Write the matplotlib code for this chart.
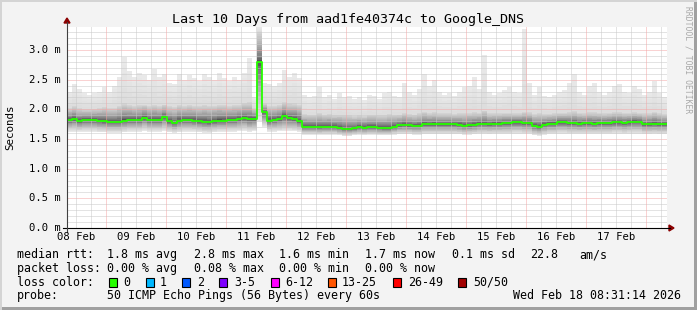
import numpy as np
import matplotlib
matplotlib.use('Agg')
import matplotlib.pyplot as plt
from matplotlib.patches import Rectangle, Polygon
from matplotlib.lines import Line2D


###===== DATA =====####

# 2-hour bins over the 10 days (start Feb 8 08:31:14), values in ms
median_rtt = [
    1.82, 1.84, 1.80, 1.82, 1.82, 1.82, 1.81, 1.80, 1.79, 1.79, 1.79, 1.81,
    1.82, 1.82, 1.82, 1.86, 1.82, 1.82, 1.82, 1.87, 1.80, 1.77, 1.81, 1.82,
    1.82, 1.81, 1.80, 1.79, 1.78, 1.80, 1.81, 1.81, 1.82, 1.82, 1.84, 1.86,
    1.83, 1.84, 2.80, 1.95, 1.81, 1.82, 1.84, 1.88, 1.85, 1.84, 1.80, 1.71,
    1.71, 1.71, 1.70, 1.71, 1.71, 1.71, 1.69, 1.67, 1.67, 1.68, 1.70, 1.69,
    1.70, 1.70, 1.69, 1.68, 1.68, 1.71, 1.73, 1.74, 1.73, 1.72, 1.72, 1.75,
    1.75, 1.75, 1.75, 1.75, 1.75, 1.75, 1.74, 1.72, 1.73, 1.74, 1.76, 1.76,
    1.75, 1.76, 1.76, 1.77, 1.77, 1.78, 1.78, 1.77, 1.77, 1.72, 1.71, 1.74,
    1.76, 1.76, 1.78, 1.78, 1.77, 1.77, 1.76, 1.77, 1.77, 1.76, 1.77, 1.77,
    1.77, 1.78, 1.78, 1.77, 1.78, 1.79, 1.79, 1.75, 1.75, 1.76, 1.75, 1.75,
]

smoke_low = [
    1.62, 1.62, 1.62, 1.62, 1.62, 1.62, 1.61, 1.61, 1.60, 1.60, 1.60, 1.61,
    1.62, 1.62, 1.62, 1.63, 1.62, 1.62, 1.62, 1.63, 1.61, 1.60, 1.61, 1.62,
    1.62, 1.62, 1.61, 1.60, 1.60, 1.61, 1.62, 1.62, 1.62, 1.62, 1.63, 1.63,
    1.62, 1.63, 1.80, 1.70, 1.62, 1.62, 1.63, 1.64, 1.63, 1.63, 1.62, 1.57,
    1.57, 1.57, 1.57, 1.57, 1.57, 1.57, 1.56, 1.55, 1.55, 1.56, 1.57, 1.56,
    1.57, 1.57, 1.56, 1.56, 1.56, 1.57, 1.58, 1.58, 1.58, 1.57, 1.57, 1.58,
    1.58, 1.58, 1.58, 1.58, 1.58, 1.58, 1.58, 1.57, 1.57, 1.58, 1.58, 1.58,
    1.58, 1.58, 1.58, 1.58, 1.58, 1.59, 1.59, 1.58, 1.58, 1.56, 1.55, 1.57,
    1.58, 1.58, 1.59, 1.59, 1.58, 1.58, 1.58, 1.58, 1.58, 1.58, 1.58, 1.58,
    1.58, 1.59, 1.59, 1.58, 1.59, 1.59, 1.59, 1.58, 1.58, 1.58, 1.58, 1.58,
]

smoke_mid = [
    2.02, 2.05, 2.02, 2.00, 2.00, 2.01, 2.02, 2.04, 2.02, 2.03, 2.06, 2.10,
    2.08, 2.06, 2.07, 2.08, 2.06, 2.08, 2.06, 2.08, 2.05, 2.04, 2.07, 2.06,
    2.07, 2.06, 2.05, 2.07, 2.06, 2.06, 2.08, 2.07, 2.06, 2.07, 2.08, 2.10,
    2.12, 2.02, 3.30, 2.10, 2.06, 2.06, 2.08, 2.12, 2.10, 2.10, 2.08, 1.92,
    1.91, 1.91, 1.93, 1.91, 1.92, 1.90, 1.91, 1.90, 1.90, 1.89, 1.90, 1.89,
    1.91, 1.91, 1.90, 1.91, 1.92, 1.91, 1.91, 1.94, 1.92, 1.91, 1.93, 1.96,
    1.94, 1.95, 1.93, 1.93, 1.93, 1.92, 1.93, 1.93, 1.94, 1.95, 1.94, 1.98,
    1.93, 1.93, 1.93, 1.94, 1.94, 1.93, 1.93, 1.96, 1.95, 1.92, 1.93, 1.92,
    1.92, 1.93, 1.94, 1.94, 1.95, 1.97, 1.94, 1.93, 1.95, 1.95, 1.94, 1.93,
    1.94, 1.95, 1.95, 1.94, 1.94, 1.95, 1.94, 1.93, 1.94, 1.96, 1.94, 1.92,
]

smoke_max = [
    2.30, 2.42, 2.35, 2.28, 2.25, 2.27, 2.30, 2.38, 2.30, 2.40, 2.55, 2.88,
    2.65, 2.55, 2.62, 2.58, 2.50, 2.68, 2.55, 2.60, 2.45, 2.42, 2.60, 2.50,
    2.58, 2.52, 2.48, 2.60, 2.55, 2.50, 2.62, 2.52, 2.48, 2.55, 2.50, 2.62,
    2.86, 2.20, 3.38, 2.45, 2.42, 2.40, 2.45, 2.66, 2.55, 2.62, 2.52, 2.25,
    2.20, 2.22, 2.37, 2.20, 2.25, 2.18, 2.28, 2.20, 2.22, 2.18, 2.20, 2.15,
    2.25, 2.22, 2.18, 2.28, 2.30, 2.22, 2.20, 2.45, 2.30, 2.25, 2.35, 2.60,
    2.40, 2.50, 2.30, 2.25, 2.28, 2.22, 2.30, 2.37, 2.40, 2.55, 2.35, 2.92,
    2.30, 2.25, 2.28, 2.32, 2.37, 2.30, 2.28, 3.35, 2.45, 2.25, 2.37, 2.22,
    2.20, 2.25, 2.30, 2.33, 2.45, 2.60, 2.30, 2.25, 2.40, 2.45, 2.30, 2.25,
    2.30, 2.40, 2.43, 2.30, 2.28, 2.40, 2.35, 2.25, 2.30, 2.47, 2.28, 2.20,
]

day_labels = ['08 Feb', '09 Feb', '10 Feb', '11 Feb', '12 Feb',
              '13 Feb', '14 Feb', '15 Feb', '16 Feb', '17 Feb']
y_ticks = [0.0, 0.5, 1.0, 1.5, 2.0, 2.5, 3.0]

title = 'Last 10 Days from aad1fe40374c to Google_DNS'
rtt_stats = ['1.8 ms avg', '2.8 ms max', '1.6 ms min', '1.7 ms now', '0.1 ms sd', '22.8', 'am/s']
loss_stats = ['0.00 % avg', '0.08 % max', '0.00 % min', '0.00 % now']
loss_labels = ['0', '1', '2', '3-5', '6-12', '13-25', '26-49', '50/50']
loss_colors = ['#26ff00', '#00b8ff', '#0059ff', '#7e00ff', '#ff00ff', '#ff5500', '#ff0000', '#a10000']
probe_text = '50 ICMP Echo Pings (56 Bytes) every 60s'
stamp = 'Wed Feb 18 08:31:14 2026'


###===== LAYOUT =====####
W, H = 697, 310
X0, X1 = 67, 667           # plot area in pixels
Y0, Y1 = 228, 27
MS_PER_PX = 1 / 59.33
HOURS = 240
MIDNIGHT = 15.479          # hours from start to Feb 9 00:00
MONO = 'DejaVu Sans Mono'

def fx(x):
    return x / W

def fy(y):
    return 1 - y / H


fig = plt.figure(figsize=(W / 100, H / 100), dpi=100, facecolor='#f3f3f3')
ax = fig.add_axes([fx(X0), fy(Y0), (X1 - X0) / W, (Y0 - Y1) / H])
ax.set_facecolor('white')
ax.set_xlim(0, HOURS)
ax.set_ylim(0, (Y0 - Y1) * MS_PER_PX)
for s in ax.spines.values():
    s.set_visible(False)
ax.set_xticks([])
ax.set_yticks([])

#=== Smoke ===#
med = np.array(median_rtt)
low = np.array(smoke_low)
mid = np.array(smoke_mid)
top = np.array(smoke_max)
edges = np.arange(len(med) + 1) * 2.0

def ext(a):
    return np.append(a, a[-1])

def shade(a, b, g0, g1, n=14, gamma=1.0):
    # gray ramp from curve a (level g0) to curve b (level g1)
    for k in range(n):
        lo = a + (b - a) * k / n
        hi = a + (b - a) * (k + 1) / n
        t = ((k + 0.5) / n) ** gamma
        g = g0 + (g1 - g0) * t
        ax.fill_between(edges, ext(lo), ext(hi), step='post', color=str(round(g, 3)),
                        lw=0, antialiased=False, zorder=1)

shade(med, low, 0.25, 0.92, gamma=0.55)
shade(med, mid, 0.20, 0.84, gamma=0.5)
shade(mid, top, 0.86, 0.92, n=6)

#=== Grid ===#
dot = (0, (1, 1))
for v in np.arange(0.1, 3.4, 0.1):
    major = abs(v * 2 - round(v * 2)) < 1e-6
    ax.axhline(v, color='#f4a6a6' if major else '#c8c8c8', lw=0.72, ls=dot, zorder=2)
for h in np.arange(MIDNIGHT - 12, HOURS, 6):
    major = abs(((h - MIDNIGHT) / 24) - round((h - MIDNIGHT) / 24)) < 1e-6
    if h > 0:
        ax.axvline(h, color='#f4a6a6' if major else '#c8c8c8', lw=0.72, ls=dot, zorder=2)

#=== Median line ===#
ax.step(edges, ext(med), where='post', color=loss_colors[0], lw=1.3, zorder=3)

#=== Axes with arrows ===#
dark_red = '#8b0000'
fig.add_artist(Line2D([fx(63), fx(670)], [fy(Y0), fy(Y0)], color='black', lw=0.8))
fig.add_artist(Line2D([fx(X0), fx(X0)], [fy(232), fy(22)], color='#404040', lw=0.8))
fig.add_artist(Polygon([[fx(669), fy(225)], [fx(669), fy(231)], [fx(674), fy(Y0)]],
                       closed=True, color=dark_red, transform=fig.transFigure))
fig.add_artist(Polygon([[fx(64), fy(23)], [fx(70), fy(23)], [fx(X0), fy(18)]],
                       closed=True, color=dark_red, transform=fig.transFigure))

#=== Tick labels ===#
for i, lab in enumerate(day_labels):
    h = MIDNIGHT - 12 + 24 * i
    x = X0 + h / 0.4
    fig.text(fx(x), fy(240.5), lab, family=MONO, fontsize=7.6, ha='center', va='baseline')
for v in y_ticks:
    y = Y0 - v / MS_PER_PX
    fig.text(fx(60.5), fy(y), '%.1f m' % v, family=MONO, fontsize=7.6, ha='right', va='center')
fig.text(fx(10), fy(127), 'Seconds', family=MONO, fontsize=7.8, rotation=90,
         ha='center', va='center')

fig.text(fx(348), fy(23), title, family=MONO, fontsize=9.6, ha='center', va='baseline')
fig.text(fx(688), fy(60), 'RRDTOOL / TOBI OETIKER', family=MONO, fontsize=5.8,
         rotation=-90, ha='center', va='center', color='#a8a8a8')

#=== Legend ===#
fs = 8.4
cols = [107, 194, 279, 365, 452, 530, 579]
fig.text(fx(16.7), fy(258.3), 'median rtt:', family=MONO, fontsize=fs, va='baseline')
for x, s in zip(cols, rtt_stats):
    fig.text(fx(x), fy(258.3), s, family=MONO, fontsize=fs, va='baseline')

fig.text(fx(16.7), fy(271.9), 'packet loss:', family=MONO, fontsize=fs, va='baseline')
for x, s in zip(cols, loss_stats):
    fig.text(fx(x), fy(271.9), s, family=MONO, fontsize=fs, va='baseline')

fig.text(fx(16.7), fy(285.6), 'loss color:', family=MONO, fontsize=fs, va='baseline')
box_x = [109, 146, 182, 219, 271, 328, 393, 458]
lab_x = [123, 160, 197, 234, 285, 342, 408, 473]
for bx, lx, lab, c in zip(box_x, lab_x, loss_labels, loss_colors):
    fig.add_artist(Rectangle((fx(bx), fy(286.5)), 8 / W, 8.5 / H, facecolor=c,
                             edgecolor='black', lw=0.8, transform=fig.transFigure))
    fig.text(fx(lx), fy(285.6), lab, family=MONO, fontsize=fs, va='baseline')

fig.text(fx(16.7), fy(299.3), 'probe:', family=MONO, fontsize=fs, va='baseline')
fig.text(fx(107), fy(299.3), probe_text, family=MONO, fontsize=fs, va='baseline')
fig.text(fx(513), fy(299.3), stamp, family=MONO, fontsize=fs, va='baseline')

#=== Frame ===#
fig.add_artist(Rectangle((fx(694), 0), 3 / W, 1, color='#a0a0a0', lw=0, transform=fig.transFigure))
fig.add_artist(Rectangle((0, 0), 1, 3 / H, color='#a0a0a0', lw=0, transform=fig.transFigure))
fig.add_artist(Rectangle((0, 0), 2 / W, 1, color='#d4d4d4', lw=0, transform=fig.transFigure))
fig.add_artist(Rectangle((0, fy(2)), 1, 2 / H, color='#d4d4d4', lw=0, transform=fig.transFigure))

fig.savefig('out.png', dpi=100, facecolor=fig.get_facecolor())
